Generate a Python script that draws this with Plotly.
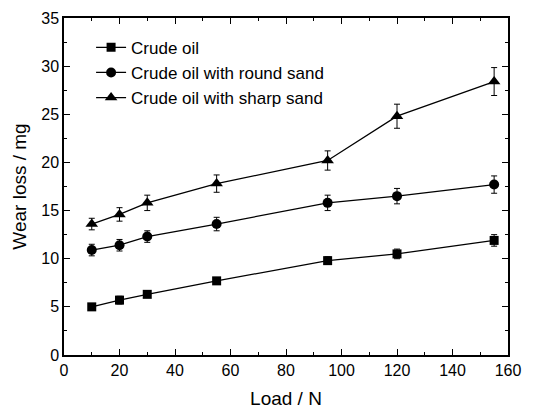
import plotly.graph_objects as go

load = [10, 20, 30, 55, 95, 120, 155]
crude = [5.0, 5.7, 6.3, 7.7, 9.8, 10.5, 11.9]
crude_err = [0.3, 0.4, 0.3, 0.3, 0.4, 0.5, 0.6]
round_sand = [10.9, 11.4, 12.3, 13.6, 15.8, 16.5, 17.7]
round_err = [0.6, 0.6, 0.6, 0.7, 0.8, 0.8, 0.9]
sharp_sand = [13.6, 14.6, 15.8, 17.8, 20.2, 24.8, 28.4]
sharp_err = [0.6, 0.7, 0.8, 0.9, 1.0, 1.25, 1.45]

series = [
    ("Crude oil", crude, crude_err, "square", 9),
    ("Crude oil with round sand", round_sand, round_err, "circle", 10),
    ("Crude oil with sharp sand", sharp_sand, sharp_err, "triangle-up", 11),
]

fig = go.Figure()
for name, ys, errs, sym, sz in series:
    fig.add_trace(go.Scatter(
        x=load, y=ys, name=name, mode="lines+markers",
        line=dict(color="black", width=1.3),
        marker=dict(symbol=sym, size=sz, color="black"),
        error_y=dict(type="data", array=errs, visible=True, color="black",
                     thickness=1, width=3),
    ))

font = "Liberation Sans, Arial, sans-serif"
axis_common = dict(
    showline=True, linecolor="black", linewidth=1.5, mirror="ticks",
    ticks="inside", ticklen=6, tickwidth=1.2, tickcolor="black",
    showgrid=False, zeroline=False, automargin=False,
    tickfont=dict(family=font, size=16, color="black"),
)
fig.update_xaxes(
    range=[0, 160], dtick=20, tick0=0,
    title=dict(text="Load / N", font=dict(family=font, size=19, color="black"), standoff=17),
    minor=dict(dtick=10, ticks="inside", ticklen=3, tickcolor="black", tickwidth=1),
    **axis_common,
)
fig.update_yaxes(
    range=[0, 35], dtick=5, tick0=0,
    title=dict(text="Wear loss / mg", font=dict(family=font, size=19, color="black"), standoff=10),
    minor=dict(dtick=2.5, ticks="inside", ticklen=3, tickcolor="black", tickwidth=1),
    **axis_common,
)
# page body has an 8px default margin; compensate so the plot lands where the reference has it
fig.update_layout(
    width=526, height=401,
    margin=dict(l=56, r=26, t=10, b=54),
    plot_bgcolor="white", paper_bgcolor="white",
    showlegend=True,
    legend=dict(x=0.061, y=0.965, xanchor="left", yanchor="top",
                bgcolor="rgba(0,0,0,0)", font=dict(family=font, size=17, color="black"),
                tracegroupgap=0, itemwidth=30),
)
fig.write_html("out.html")
